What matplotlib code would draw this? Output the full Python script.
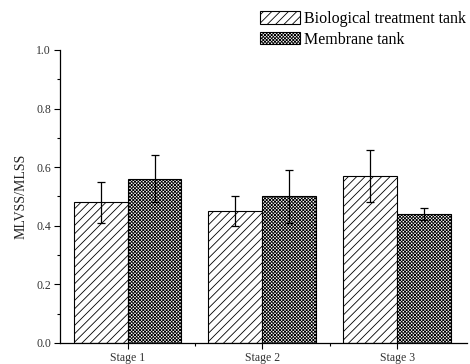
import numpy as np
import matplotlib
matplotlib.use("Agg")
import matplotlib.pyplot as plt
from matplotlib.ticker import MultipleLocator, FixedLocator, FormatStrFormatter

stages = ["Stage 1", "Stage 2", "Stage 3"]
bio_mean = [0.48, 0.45, 0.57]
bio_err = [0.07, 0.05, 0.09]
mem_mean = [0.56, 0.50, 0.44]
mem_err = [0.08, 0.09, 0.02]
series_names = ["Biological treatment tank", "Membrane tank"]

plt.rcParams["font.family"] = ["Liberation Serif", "DejaVu Serif"]
plt.rcParams["hatch.linewidth"] = 0.6

fig = plt.figure(figsize=(4.70, 3.64), dpi=100)
ax = fig.add_axes([0.128, 0.0577, 0.866, 0.805])

x = np.arange(1, len(stages) + 1)
w = 0.4

ax.bar(x - w / 2, bio_mean, w, color="white", edgecolor="black", hatch="////",
       linewidth=0.8, label=series_names[0], zorder=2)
ax.bar(x + w / 2, mem_mean, w, color="white", edgecolor="black", hatch="xxxxxxxxxx",
       linewidth=0.8, label=series_names[1], zorder=2)

ax.errorbar(x - w / 2, bio_mean, yerr=bio_err, fmt="none", ecolor="black",
            elinewidth=0.9, capsize=3, capthick=0.9, zorder=3)
ax.errorbar(x + w / 2, mem_mean, yerr=mem_err, fmt="none", ecolor="black",
            elinewidth=0.9, capsize=3, capthick=0.9, zorder=3)

ax.set_xlim(0.5, 3.52)
ax.set_ylim(0, 1.0)
ax.set_xticks(x)
ax.set_xticklabels(stages, fontsize=8.5, color="#333333")
ax.xaxis.set_minor_locator(FixedLocator([1.5, 2.5]))
ax.yaxis.set_major_locator(MultipleLocator(0.2))
ax.yaxis.set_minor_locator(MultipleLocator(0.1))
ax.yaxis.set_major_formatter(FormatStrFormatter("%.1f"))
ax.tick_params(axis="y", labelsize=8.5, labelcolor="#333333")
ax.tick_params(which="major", direction="out", length=4.5, width=0.8, pad=2)
ax.tick_params(which="minor", direction="out", length=2.5, width=0.8)
ax.set_ylabel("MLVSS/MLSS", fontsize=10, labelpad=6, color="#222222")

for s in ["top", "right"]:
    ax.spines[s].set_visible(False)
for s in ["left", "bottom"]:
    ax.spines[s].set_linewidth(0.9)

fig.legend(loc="upper right", bbox_to_anchor=(1.012, 0.996), frameon=False,
           fontsize=11.5, handlelength=2.5, handleheight=0.8,
           handletextpad=0.25, labelspacing=0.3, borderaxespad=0.2)

fig.savefig("out.png", dpi=100)
